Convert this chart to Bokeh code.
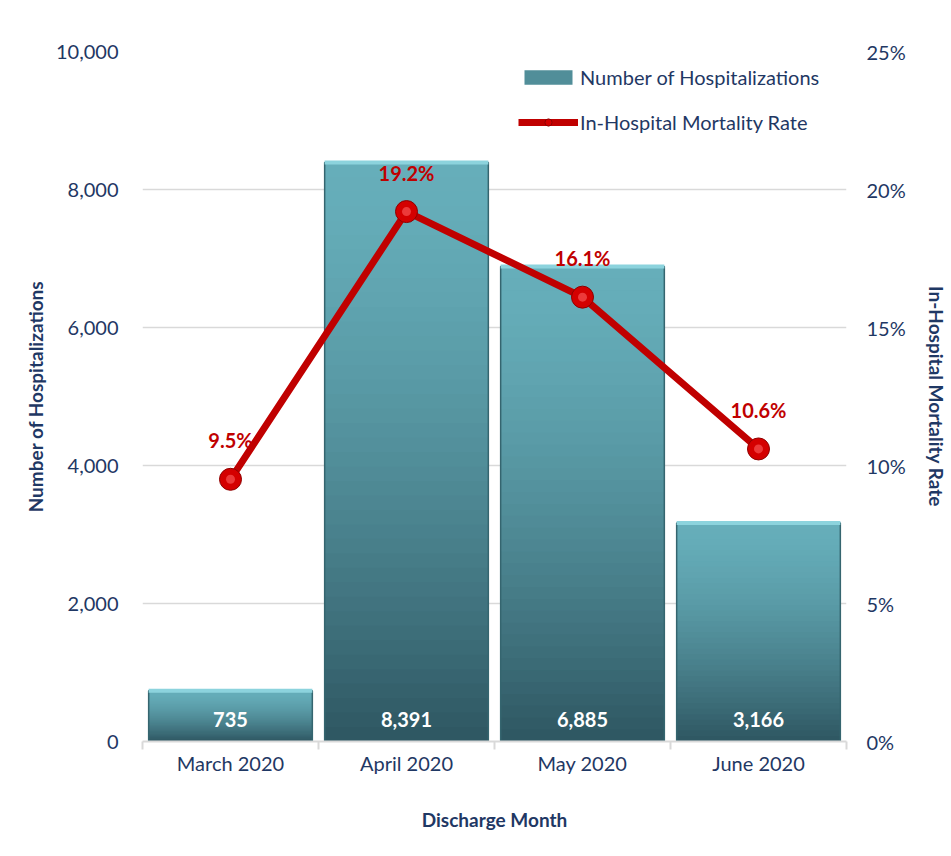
from bokeh.plotting import figure
from bokeh.models import (Range1d, LinearAxis, FixedTicker, CustomJSTickFormatter,
                          PrintfTickFormatter, NumeralTickFormatter, Legend, LegendItem)
from bokeh.core.properties import value
from bokeh.embed import file_html
from bokeh.resources import INLINE

# ---- data ----
months = ["March 2020", "April 2020", "May 2020", "June 2020"]
hospitalizations = [735, 8391, 6885, 3166]
mortality_rate = [9.5, 19.2, 16.1, 10.6]
count_ticks = [0, 2000, 4000, 6000, 8000, 10000]
rate_ticks = [0, 5, 10, 15, 20, 25]

FONT = "Lato"
NAVY = "#1F3864"
RED = "#C00000"

# category slots: each month occupies one unit on the x scale
xpos = [i + 0.5 for i in range(len(months))]

p = figure(x_range=Range1d(0, len(months)), y_range=Range1d(0, 10000), width=950, height=852,
           output_backend="svg", toolbar_location=None,
           x_axis_location=None, y_axis_location="left",
           min_border_left=142, min_border_right=102, min_border_top=51, min_border_bottom=111)
p.outline_line_color = None
p.background_fill_color = "white"
p.border_fill_color = "white"

# ---- left axis ----
ya = p.yaxis[0]
ya.ticker = FixedTicker(ticks=count_ticks)
ya.formatter = NumeralTickFormatter(format="0,0")
ya.axis_line_color = None
ya.major_tick_line_color = None
ya.minor_tick_line_color = None
ya.major_tick_out = 0
ya.major_tick_in = 0
ya.major_label_standoff = 24
ya.major_label_text_font = FONT
ya.major_label_text_font_size = "20px"
ya.major_label_text_color = NAVY
ya.axis_label = "Number of Hospitalizations"
ya.axis_label_text_font = FONT
ya.axis_label_text_font_style = "bold"
ya.axis_label_text_font_size = "19px"
ya.axis_label_text_color = NAVY
ya.axis_label_standoff = 6

p.ygrid.ticker = FixedTicker(ticks=count_ticks)
p.ygrid.grid_line_color = "#D9D9D9"
p.ygrid.grid_line_width = 1.5
p.xgrid.visible = False

# ---- right axis ----
p.extra_y_ranges = {"rate": Range1d(0, 25)}
ra = LinearAxis(y_range_name="rate", ticker=FixedTicker(ticks=rate_ticks),
                formatter=PrintfTickFormatter(format="%d%%"))
ra.axis_line_color = None
ra.major_tick_line_color = None
ra.minor_tick_line_color = None
ra.major_tick_out = 0
ra.major_tick_in = 0
ra.major_label_standoff = 20
ra.major_label_text_font = FONT
ra.major_label_text_font_size = "20px"
ra.major_label_text_color = NAVY
ra.axis_label = "In-Hospital Mortality Rate"
ra.axis_label_text_font = FONT
ra.axis_label_text_font_style = "bold"
ra.axis_label_text_font_size = "19px"
ra.axis_label_text_color = NAVY
ra.axis_label_standoff = 16
p.add_layout(ra, "right")

# ---- bottom axes: divider ticks + category labels ----
da = LinearAxis(ticker=FixedTicker(ticks=list(range(len(months) + 1))),
                formatter=CustomJSTickFormatter(code="return '';"))
da.axis_line_color = "#D9D9D9"
da.axis_line_width = 2
da.major_tick_line_color = "#D9D9D9"
da.major_tick_line_width = 2
da.major_tick_out = 8
da.major_tick_in = 0
da.minor_tick_line_color = None
da.major_label_standoff = 0
p.add_layout(da, "below")

ca = LinearAxis(ticker=FixedTicker(ticks=xpos),
                formatter=CustomJSTickFormatter(args=dict(months=months),
                                                code="return months[Math.floor(tick)] || '';"))
ca.axis_line_color = None
ca.major_tick_line_color = None
ca.minor_tick_line_color = None
ca.major_tick_out = 0
ca.major_tick_in = 0
ca.major_label_standoff = 1
ca.major_label_text_font = FONT
ca.major_label_text_font_size = "20px"
ca.major_label_text_color = NAVY
ca.axis_label = "Discharge Month"
ca.axis_label_text_font = FONT
ca.axis_label_text_font_style = "bold"
ca.axis_label_text_font_size = "19px"
ca.axis_label_text_color = NAVY
ca.axis_label_standoff = 30
p.add_layout(ca, "below")

# ---- gradient bars (layered) ----
def lerp(c1, c2, t):
    a = [int(c1[i:i + 2], 16) for i in (1, 3, 5)]
    b = [int(c2[i:i + 2], 16) for i in (1, 3, 5)]
    return "#%02x%02x%02x" % tuple(int(round(a[i] + (b[i] - a[i]) * t)) for i in range(3))

TOP = "#66AEBA"
BOT = "#2E5661"
N = 40
BW = 0.93
layers = []
for k in range(N):
    frac = 1 - k / N
    t = (k + 0.5) / N
    col = lerp(TOP, BOT, t ** 1.5)
    r = p.vbar(x=xpos, top=[h * frac for h in hospitalizations], width=BW,
               fill_color=col, line_color=None)
    layers.append(r)

# outline / bevel
p.vbar(x=xpos, top=hospitalizations, width=BW, fill_color=None,
       line_color="#35656F", line_width=1.5)
p.segment(x0=[x - BW / 2 for x in xpos], x1=[x + BW / 2 for x in xpos],
          y0=hospitalizations, y1=hospitalizations,
          line_color="#8CD3DD", line_width=4)

# bar value labels
p.text(x=xpos, y=[0] * len(months), text=[f"{h:,}" for h in hospitalizations],
       text_font=value(FONT), text_font_style="bold", text_font_size="20px",
       text_color="white", text_align="center", text_baseline="middle", y_offset=-22)

# ---- mortality line ----
ln = p.line(x=xpos, y=mortality_rate, y_range_name="rate", line_color=RED,
            line_width=7)
sc = p.scatter(x=xpos, y=mortality_rate, y_range_name="rate", size=22,
               fill_color="#D40000", line_color="#8E0000", line_width=1)
p.scatter(x=xpos, y=mortality_rate, y_range_name="rate", size=9,
          fill_color="#FF6A6A", line_color=None, fill_alpha=0.55)

p.text(x=xpos, y=mortality_rate, y_range_name="rate",
       text=[f"{r}%" for r in mortality_rate],
       text_font=value(FONT), text_font_style="bold", text_font_size="20px",
       text_color=RED, text_align="center", text_baseline="middle", y_offset=-39)

# ---- legend ----
legend = Legend(items=[
    LegendItem(label="Number of Hospitalizations", renderers=[layers[N // 2]]),
    LegendItem(label="In-Hospital Mortality Rate", renderers=[ln, sc]),
], location=(376, 607))
legend.background_fill_alpha = 0
legend.border_line_color = None
legend.label_text_font = FONT
legend.label_text_font_size = "20px"
legend.label_text_color = NAVY
legend.glyph_width = 60
legend.glyph_height = 18
legend.label_standoff = 2
legend.spacing = 21
legend.padding = 0
legend.margin = 0
p.add_layout(legend, "center")

open("out.html", "w").write(file_html(p, INLINE))
